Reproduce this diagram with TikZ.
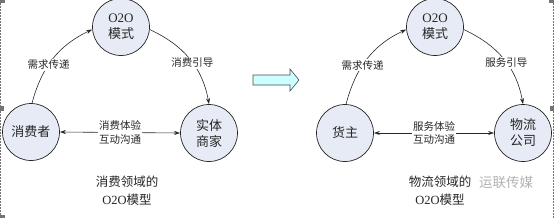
\documentclass[tikz,border=0pt]{standalone}
\usepackage{fontspec}
\setmainfont{Liberation Serif}
\newfontfamily\cjk{Noto Sans CJK SC}
\usetikzlibrary{arrows.meta}
\definecolor{circfill}{HTML}{E6EBF5}
\definecolor{arrfill}{HTML}{CCFFFF}
\begin{document}
\begin{tikzpicture}[x=1pt,y=-1pt,
  ent/.style={circle,draw=black!85,line width=0.7pt,fill=circfill,minimum size=57pt,inner sep=0pt,align=center,text=black!85,font=\fontsize{13}{16}\selectfont\cjk},
  conn/.style={draw=black!85,line width=0.6pt},
  tip/.style={-{Stealth[length=6pt,width=4pt]}},
  lbl/.style={fill=white,inner sep=1pt,align=center,text=black!85,font=\fontsize{10.5}{13.5}\selectfont\cjk},
  captext/.style={align=center,text=black!85,font=\fontsize{12.5}{18}\selectfont\cjk},
  handle/.style={fill=black!55,draw=none}]
\useasboundingbox (0,0) rectangle (554,218);
% frame
\draw[black!55,line width=0.6pt,dash pattern=on 1.5pt off 1.5pt] (0.6,0) -- (0.6,218);
\draw[black!55,line width=0.6pt,dash pattern=on 1.5pt off 1.5pt] (553,0) -- (553,218);
\fill[handle] (0,0) rectangle (5,3);
\fill[handle] (0,106) rectangle (4,111);
\fill[handle] (0,215) rectangle (5,218);
\fill[handle] (549,0) rectangle (554,3);
\fill[handle] (550,106) rectangle (554,111);
% left panel
\node[ent] (oa) at (121,27) {{\rmfamily O2O}\\模式};
\node[ent] (ca) at (31,132) {消费者};
\node[ent] (sa) at (209,133) {实体\\商家};
\draw[conn,tip] (ca.88) to[out=75,in=205] node[lbl,pos=0.42] {需求传递} (oa.185);
\draw[conn,tip] (oa.355) to[out=-25,in=100] node[lbl,pos=0.55] {消费引导} (sa.90);
\draw[conn,{Stealth[length=6pt,width=4pt]}-{Stealth[length=6pt,width=4pt]}] (ca.east) -- node[lbl] {消费体验\\互动沟通} (sa.west);
\node[captext] (capa) at (127,191) {消费领域的\\{\rmfamily O2O}模型};
% block arrow
\draw[draw=black!70,line width=0.6pt,fill=arrfill] (253,75) -- (290,75) -- (290,69) -- (299,80) -- (290,91) -- (290,85) -- (253,85) -- cycle;
% right panel
\node[ent] (ob) at (435,27) {{\rmfamily O2O}\\模式};
\node[ent] (hb) at (345,133) {货主};
\node[ent] (wb) at (523,133) {物流\\公司};
\draw[conn,tip] (hb.88) to[out=75,in=205] node[lbl,pos=0.42] {需求传递} (ob.185);
\draw[conn,tip] (ob.355) to[out=-25,in=100] node[lbl,pos=0.55] {服务引导} (wb.90);
\draw[conn,{Stealth[length=6pt,width=4pt]}-{Stealth[length=6pt,width=4pt]}] (hb.east) -- node[lbl] {服务体验\\互动沟通} (wb.west);
\node[captext] (capb) at (440,191) {物流领域的\\{\rmfamily O2O}模型};
\node[text=black!30,font=\fontsize{13.5}{16}\selectfont\cjk] (wm) at (506,182) {运联传媒};
\end{tikzpicture}
\end{document}
